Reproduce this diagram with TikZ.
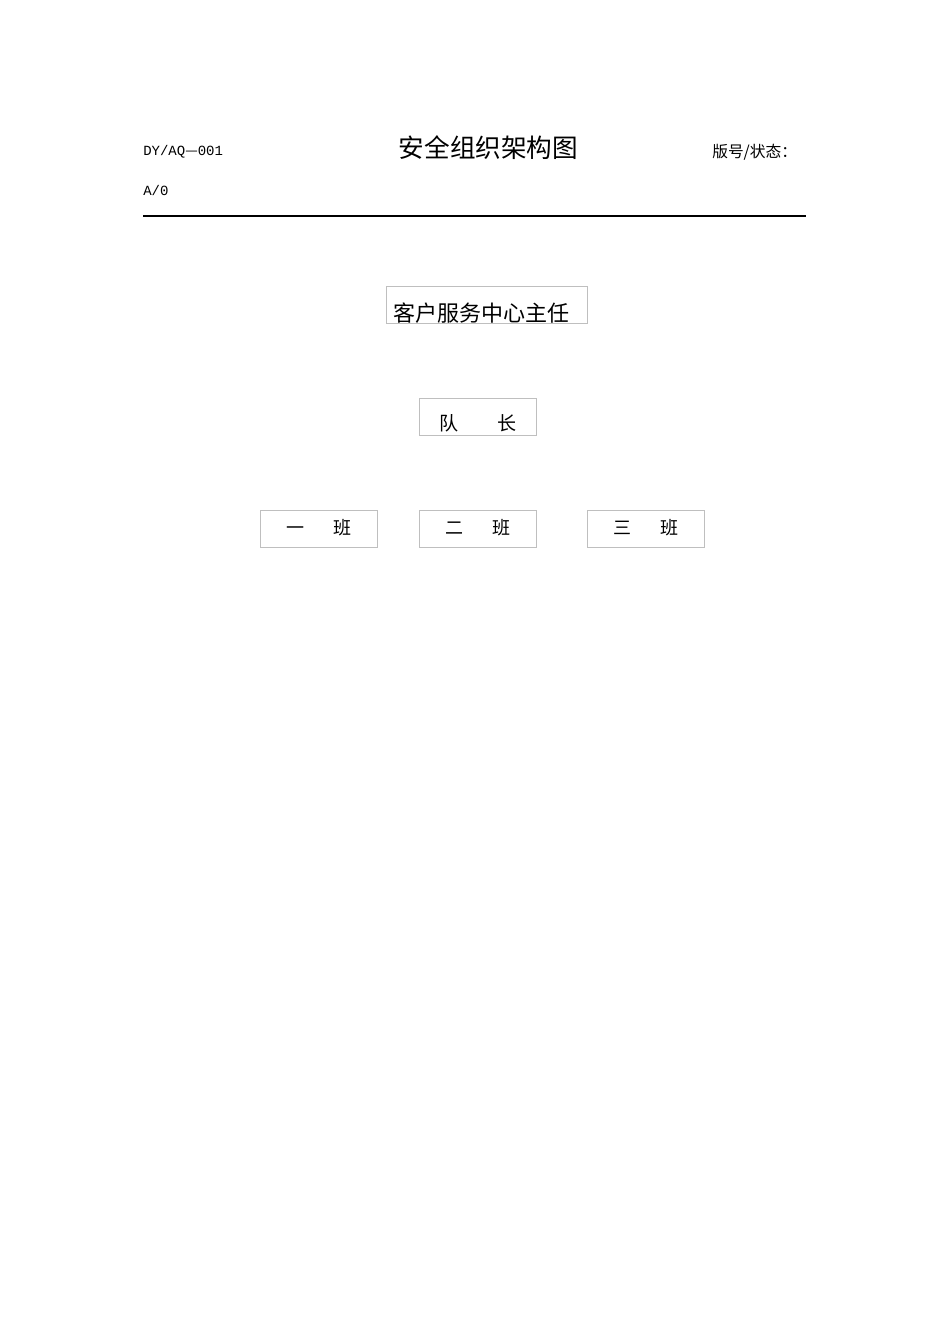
\documentclass[tikz,border=0pt]{standalone}
\usepackage{fontspec}
\newfontfamily\cjk{Noto Sans CJK SC}
\newfontfamily\hdmono{Liberation Mono}
\usetikzlibrary{positioning}
\definecolor{boxgray}{HTML}{BFBFBF}

\begin{document}
\begin{tikzpicture}[x=0.75pt,y=-0.75pt,node distance=55.5pt,
    post/.style={draw=boxgray,line width=0.75pt,inner xsep=0pt,inner ysep=0pt,
                 minimum width=88pt},
    hdtext/.style={inner sep=0pt,anchor=west}]

  \useasboundingbox (0,0) rectangle (950,1344);

  % header
  \node[hdtext,font=\hdmono\fontsize{10.5}{12}\selectfont] (docno) at (143,152) {DY/AQ{\cjk —}001};
  \node[hdtext,font=\hdmono\fontsize{10.5}{12}\selectfont] (rev) at (143,190) {A/0};
  \node[inner sep=0pt,font=\cjk\fontsize{19.2}{20}\selectfont] (title) at (488.5,148) {安全组织架构图};
  \node[hdtext,font=\cjk\fontsize{11.8}{12}\selectfont] (ver) at (712,152) {版号/状态：};
  \draw[line width=1.5pt] (143,216) -- (806,216);

  % chart
  \node[post,minimum width=150.75pt,text width=139.5pt,align=left,
        text height=25.8pt,text depth=1.2pt,
        font=\cjk\fontsize{16.5}{17}\selectfont] (dir) at (486.5,305) {客户服务中心主任};
  \node[post,text height=24pt,text depth=3.75pt,
        font=\cjk\fontsize{14.3}{15}\selectfont] (lead) at (478,416.5) {队\hspace{2em}长};

  \node[post,text height=18.6pt,text depth=9.2pt,font=\cjk\fontsize{13.5}{14}\selectfont]
       (c2) [below=of lead] {二\hspace{1.6em}班};
  \node[post,text height=18.6pt,text depth=9.2pt,font=\cjk\fontsize{13.5}{14}\selectfont]
       (c1) [left=30.75pt of c2] {一\hspace{1.6em}班};
  \node[post,text height=18.6pt,text depth=9.2pt,font=\cjk\fontsize{13.5}{14}\selectfont]
       (c3) [right=37pt of c2] {三\hspace{1.6em}班};

\end{tikzpicture}
\end{document}
